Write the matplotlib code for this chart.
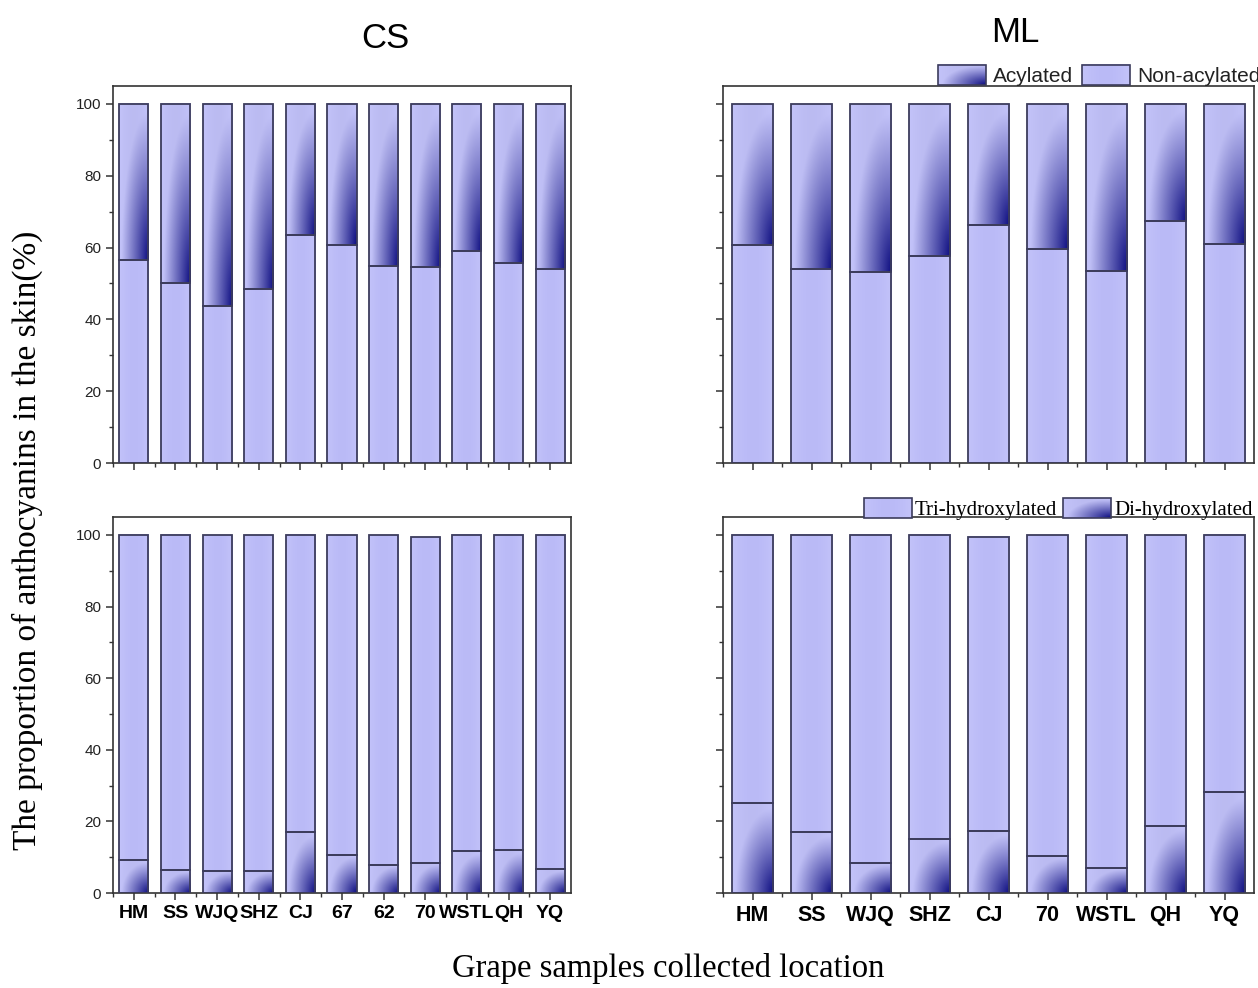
import numpy as np
import matplotlib
matplotlib.use('Agg')
import matplotlib.pyplot as plt
from matplotlib.patches import Rectangle
from matplotlib.legend_handler import HandlerBase
from matplotlib.image import BboxImage
from matplotlib.transforms import Bbox, TransformedBbox
from matplotlib.ticker import MultipleLocator

# ---------------- data ----------------
cs_sites = ["HM", "SS", "WJQ", "SHZ", "CJ", "67", "62", "70", "WSTL", "QH", "YQ"]
ml_sites = ["HM", "SS", "WJQ", "SHZ", "CJ", "70", "WSTL", "QH", "YQ"]

cs_nonacyl = [56.5, 50.0, 43.7, 48.6, 63.5, 60.7, 55.0, 54.6, 59.0, 55.8, 54.0]
cs_acyl = [43.5, 50.0, 56.3, 51.4, 36.5, 39.3, 45.0, 45.4, 41.0, 44.2, 46.0]
ml_nonacyl = [60.8, 54.1, 53.3, 57.7, 66.3, 59.7, 53.5, 67.3, 61.1]
ml_acyl = [39.2, 45.9, 46.7, 42.3, 33.7, 40.3, 46.5, 32.7, 38.9]

cs_di = [9.1, 6.4, 6.2, 6.2, 16.9, 10.7, 7.9, 8.4, 11.7, 11.9, 6.6]
cs_tri = [90.9, 93.6, 93.8, 93.8, 83.1, 89.3, 92.1, 91.0, 88.3, 88.1, 93.4]
ml_di = [25.0, 16.9, 8.4, 15.1, 17.3, 10.4, 7.1, 18.8, 28.2]
ml_tri = [75.0, 83.1, 91.6, 84.9, 82.2, 89.6, 92.9, 81.2, 71.8]

# ---------------- style ----------------
LIGHT = np.array([0.765, 0.765, 0.978])
DARK = np.array([0.05, 0.05, 0.50])
EDGE = '#3c3c5c'
BAR_W = 0.7
SANS = 'Liberation Sans'
SERIF = 'Liberation Serif'


def gradient_img(n=96):
    u = np.linspace(0, 1, n)[None, :]
    v = np.linspace(0, 1, n)[:, None]
    r = np.sqrt(((1 - u) / 0.92) ** 2 + (v / 0.95) ** 2)
    d = np.clip(1 - r, 0, 1) ** 1.1
    d = d[:, :, None]
    base = LIGHT[None, None, :] - 0.03 * np.sin(np.pi * u)[:, :, None]
    img = base * (1 - d) + DARK[None, None, :] * d
    return np.clip(img, 0, 1)


def plain_img(n=96):
    u = np.linspace(0, 1, n)[None, :]
    v = np.linspace(0, 1, n)[:, None]
    shade = 0.035 * np.sin(np.pi * u) + 0.0 * v
    img = LIGHT[None, None, :] - shade[:, :, None] * np.array([1.0, 1.0, 0.3])
    return np.clip(img, 0, 1)


GRAD = gradient_img()
PLAIN = plain_img()


def draw_seg(ax, x, y0, h, img):
    x0, x1 = x - BAR_W / 2, x + BAR_W / 2
    ax.imshow(img, extent=(x0, x1, y0, y0 + h), origin='lower',
              aspect='auto', interpolation='bilinear', zorder=2)
    ax.add_patch(Rectangle((x0, y0), BAR_W, h, facecolor='none',
                           edgecolor=EDGE, lw=1.3, zorder=3))


def style_ax(ax, n, labels, show_x, show_y, xsize=15.5):
    ax.set_xlim(-0.5, n - 0.5)
    ax.set_ylim(0, 105)
    ax.set_xticks(np.arange(n))
    ax.set_xticks(np.arange(n) - 0.5, minor=True)
    ax.yaxis.set_major_locator(MultipleLocator(20))
    ax.yaxis.set_minor_locator(MultipleLocator(10))
    ax.tick_params(axis='both', which='major', direction='out', length=5,
                   width=1.1, color='#333333')
    ax.tick_params(axis='both', which='minor', direction='out', length=3,
                   width=1.0, color='#333333')
    if show_x:
        ax.set_xticklabels(labels, fontsize=xsize, fontweight='bold', family=SANS)
    else:
        ax.set_xticklabels([])
    if show_y:
        for t in ax.get_yticklabels():
            t.set_fontsize(11)
            t.set_family(SANS)
            t.set_color('#222222')
    else:
        ax.set_yticklabels([])
    for s in ax.spines.values():
        s.set_color('#333333')
        s.set_linewidth(1.2)


class GradHandler(HandlerBase):
    def __init__(self, img):
        super().__init__()
        self.img = img

    def create_artists(self, legend, orig_handle, xdescent, ydescent,
                       width, height, fontsize, trans):
        bb = Bbox.from_bounds(-xdescent, -ydescent, width, height)
        tbb = TransformedBbox(bb, trans)
        im = BboxImage(tbb, interpolation='bilinear', origin='lower')
        im.set_data(self.img)
        rect = Rectangle((-xdescent, -ydescent), width, height,
                         facecolor='none', edgecolor=EDGE, lw=1.2,
                         transform=trans)
        return [im, rect]


W, H = 1258, 988
fig = plt.figure(figsize=(W / 100, H / 100), dpi=100)

def px_axes(l, r, t, b):
    return fig.add_axes([l / W, 1 - b / H, (r - l) / W, (b - t) / H])

ax_tl = px_axes(113, 571, 86, 463)
ax_tr = px_axes(723, 1254, 86, 463)
ax_bl = px_axes(113, 571, 517, 893)
ax_br = px_axes(723, 1254, 517, 893)

# top-left: CS acylation
for i in range(len(cs_sites)):
    draw_seg(ax_tl, i, 0, cs_nonacyl[i], PLAIN)
    draw_seg(ax_tl, i, cs_nonacyl[i], cs_acyl[i], GRAD)
# top-right: ML acylation
for i in range(len(ml_sites)):
    draw_seg(ax_tr, i, 0, ml_nonacyl[i], PLAIN)
    draw_seg(ax_tr, i, ml_nonacyl[i], ml_acyl[i], GRAD)
# bottom-left: CS hydroxylation
for i in range(len(cs_sites)):
    draw_seg(ax_bl, i, 0, cs_di[i], GRAD)
    draw_seg(ax_bl, i, cs_di[i], cs_tri[i], PLAIN)
# bottom-right: ML hydroxylation
for i in range(len(ml_sites)):
    draw_seg(ax_br, i, 0, ml_di[i], GRAD)
    draw_seg(ax_br, i, ml_di[i], ml_tri[i], PLAIN)

style_ax(ax_tl, len(cs_sites), cs_sites, False, True)
style_ax(ax_tr, len(ml_sites), ml_sites, False, False)
style_ax(ax_bl, len(cs_sites), cs_sites, True, True, xsize=14)
style_ax(ax_br, len(ml_sites), ml_sites, True, False, xsize=15.5)

# legends
h_acyl = Rectangle((0, 0), 1, 1)
h_non = Rectangle((0, 0), 1, 1)
leg1 = ax_tr.legend([h_acyl, h_non], ["Acylated", "Non-acylated"],
                    handler_map={h_acyl: GradHandler(GRAD), h_non: GradHandler(PLAIN)},
                    loc='lower right', bbox_to_anchor=(1.012, 1.0), ncol=2,
                    frameon=False, borderaxespad=0, borderpad=0,
                    handlelength=2.3, handleheight=1.15, handletextpad=0.35,
                    columnspacing=0.4, prop={'family': SANS, 'size': 15})
for t in leg1.get_texts():
    t.set_color('#222222')

h_tri = Rectangle((0, 0), 1, 1)
h_di = Rectangle((0, 0), 1, 1)
leg2 = ax_br.legend([h_tri, h_di], ["Tri-hydroxylated", "Di-hydroxylated"],
                    handler_map={h_tri: GradHandler(PLAIN), h_di: GradHandler(GRAD)},
                    loc='lower right', bbox_to_anchor=(0.998, 0.993), ncol=2,
                    frameon=False, borderaxespad=0, borderpad=0,
                    handlelength=2.3, handleheight=1.1, handletextpad=0.15,
                    columnspacing=0.3, prop={'family': SERIF, 'size': 15})

# titles and axis labels
fig.text(385 / W, 1 - 38 / H, "CS", ha='center', va='center',
         fontsize=25, family=SANS)
fig.text(1015 / W, 1 - 32 / H, "ML", ha='center', va='center',
         fontsize=25, family=SANS)
fig.text(27 / W, 1 - 540 / H, "The proportion of anthocyanins in the skin(%)",
         rotation=90, ha='center', va='center', fontsize=24, family=SERIF)
fig.text(668 / W, 1 - 968 / H, "Grape samples collected location",
         ha='center', va='center', fontsize=23.5, family=SERIF)

fig.savefig('out.png', dpi=100)
